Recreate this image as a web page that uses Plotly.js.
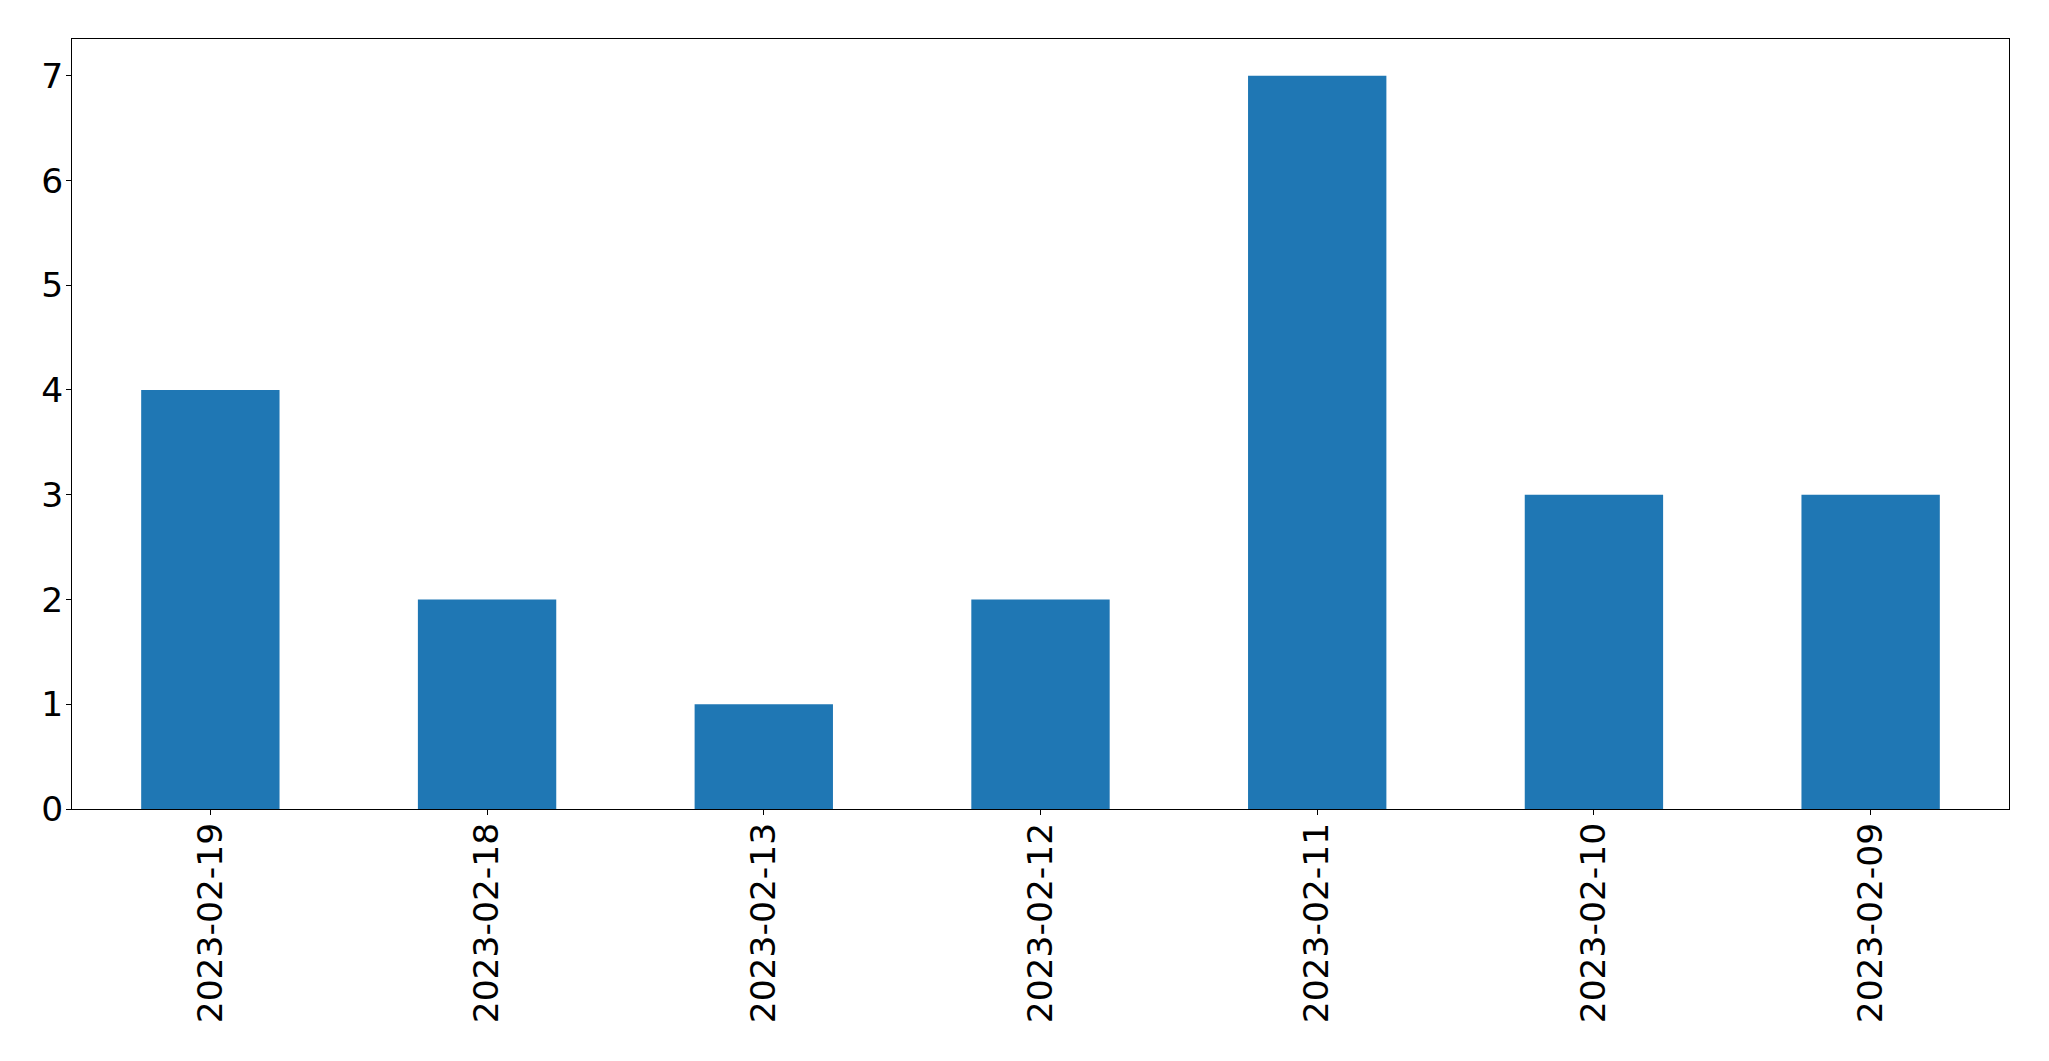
<!DOCTYPE html>
<html>
<head>
<meta charset="utf-8">
<script src="https://cdn.plot.ly/plotly-3.0.1.min.js"></script>
<style>html,body{margin:0;padding:0;background:#fff;}#chart{width:2049px;height:1061px;}</style>
</head>
<body>
<div id="chart"></div>
<script>
const dates = ["2023-02-19", "2023-02-18", "2023-02-13", "2023-02-12", "2023-02-11", "2023-02-10", "2023-02-09"];
const counts = [4, 2, 1, 2, 7, 3, 3];
const yTicks = [0, 1, 2, 3, 4, 5, 6, 7];

const font = {family: "DejaVu Sans", size: 34.5, color: "#000"};

Plotly.newPlot("chart", [{
  type: "bar",
  x: dates,
  y: counts,
  width: 0.5,
  marker: {color: "#1f77b4", line: {width: 0}},
  hoverinfo: "x+y"
}], {
  width: 2049,
  height: 1061,
  margin: {l: 72, r: 40, t: 39, b: 252, pad: 0},
  paper_bgcolor: "#fff",
  plot_bgcolor: "#fff",
  showlegend: false,
  font: font,
  xaxis: {
    type: "category",
    range: [-0.5, 6.5],
    tickangle: -90,
    ticks: "outside",
    ticklen: 5,
    tickwidth: 1,
    tickcolor: "#000",
    showline: true,
    linecolor: "#000",
    linewidth: 1,
    mirror: true,
    showgrid: false,
    zeroline: false,
    tickfont: font,
    ticklabelstandoff: -6
  },
  yaxis: {
    range: [0, 7.35],
    tickvals: yTicks,
    ticktext: yTicks.map(String),
    ticks: "outside",
    ticklen: 5,
    tickwidth: 1,
    tickcolor: "#000",
    showline: true,
    linecolor: "#000",
    linewidth: 1,
    mirror: true,
    showgrid: false,
    zeroline: false,
    tickfont: font,
    ticklabelstandoff: -4
  }
}, {displayModeBar: false, staticPlot: true});
</script>
</body>
</html>
